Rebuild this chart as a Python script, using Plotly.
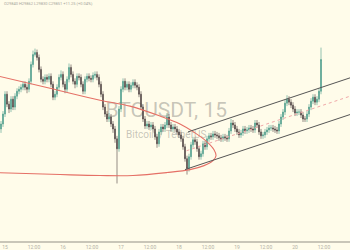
import plotly.graph_objects as go

# ---- data (price units are arbitrary) ----
candle_idx = list(range(161))
opens = [170, 175, 185, 205, 195, 190, 200, 192, 203, 208, 210, 212, 215, 212, 210, 218, 235, 245, 247, 242,
         230, 220, 218, 222, 220, 223, 215, 202, 205, 212, 222, 225, 215, 210, 220, 232, 225, 218, 215, 223,
         222, 215, 208, 220, 223, 221, 220, 224, 225, 222, 215, 205, 192, 185, 180, 182, 175, 170, 160, 150,
         190, 210, 218, 212, 215, 210, 214, 217, 214, 212, 205, 192, 180, 173, 175, 172, 174, 170, 162, 155,
         167, 172, 170, 174, 182, 174, 170, 172, 170, 167, 164, 160, 152, 140, 130, 142, 154, 159, 157, 150,
         142, 145, 155, 152, 160, 163, 162, 165, 164, 163, 161, 160, 162, 161, 160, 168, 176, 174, 170, 167,
         164, 166, 170, 168, 169, 171, 170, 169, 176, 174, 167, 163, 164, 167, 169, 171, 171, 170, 169, 168,
         175, 182, 187, 196, 200, 197, 194, 190, 186, 187, 187, 184, 180, 180, 185, 192, 198, 202, 197, 200,
         208]
highs = [178, 188, 208, 208, 198, 203, 203, 206, 211, 213, 215, 218, 218, 215, 221, 238, 249, 251, 250, 245,
         233, 223, 225, 225, 226, 226, 218, 208, 215, 225, 229, 228, 218, 223, 236, 235, 228, 221, 226, 226,
         225, 218, 223, 226, 226, 224, 227, 228, 228, 225, 218, 208, 195, 188, 186, 185, 178, 173, 163, 193,
         213, 221, 221, 218, 218, 217, 220, 220, 217, 215, 208, 195, 183, 178, 178, 177, 177, 173, 165, 170,
         175, 175, 177, 186, 185, 177, 175, 175, 173, 170, 167, 163, 155, 143, 145, 157, 162, 162, 160, 153,
         148, 158, 158, 163, 166, 166, 168, 168, 167, 166, 164, 165, 165, 164, 171, 180, 179, 177, 173, 170,
         169, 173, 173, 172, 174, 174, 173, 179, 179, 177, 170, 167, 170, 172, 174, 174, 174, 173, 172, 178,
         185, 190, 199, 204, 203, 200, 197, 193, 190, 190, 190, 187, 183, 188, 195, 201, 205, 205, 203, 211,
         252]
lows = [166, 172, 182, 192, 186, 187, 189, 189, 200, 205, 207, 209, 209, 206, 207, 215, 232, 243, 239, 227,
        217, 215, 215, 217, 217, 212, 199, 199, 202, 209, 219, 212, 206, 207, 217, 222, 215, 211, 212, 219,
        212, 205, 205, 217, 218, 217, 217, 221, 219, 212, 202, 189, 182, 177, 177, 172, 166, 156, 115, 147,
        187, 207, 209, 209, 207, 207, 211, 211, 209, 202, 189, 177, 170, 170, 169, 169, 167, 159, 151, 152,
        164, 167, 167, 171, 171, 167, 167, 167, 164, 161, 157, 149, 137, 124, 127, 139, 151, 154, 147, 139,
        139, 142, 149, 149, 157, 159, 159, 161, 160, 158, 157, 157, 158, 157, 157, 165, 171, 167, 164, 161,
        161, 163, 165, 165, 166, 167, 166, 166, 171, 164, 160, 160, 161, 164, 166, 168, 167, 166, 165, 165,
        172, 179, 184, 193, 194, 191, 187, 183, 183, 184, 181, 177, 177, 177, 182, 189, 195, 194, 194, 197,
        205]
closes = [175, 185, 205, 195, 190, 200, 192, 203, 208, 210, 212, 215, 212, 210, 218, 235, 245, 247, 242, 230,
          220, 218, 222, 220, 223, 215, 202, 205, 212, 222, 225, 215, 210, 220, 232, 225, 218, 215, 223, 222,
          215, 208, 220, 223, 221, 220, 224, 225, 222, 215, 205, 192, 185, 180, 182, 175, 170, 160, 150, 190,
          210, 218, 212, 215, 210, 214, 217, 214, 212, 205, 192, 180, 173, 175, 172, 174, 170, 162, 155, 167,
          172, 170, 174, 182, 174, 170, 172, 170, 167, 164, 160, 152, 140, 130, 142, 154, 159, 157, 150, 142,
          145, 155, 152, 160, 163, 162, 165, 164, 163, 161, 160, 162, 161, 160, 168, 176, 174, 170, 167, 164,
          166, 170, 168, 169, 171, 170, 169, 176, 174, 167, 163, 164, 167, 169, 171, 171, 170, 169, 168, 175,
          182, 187, 196, 200, 197, 194, 190, 186, 187, 187, 184, 180, 180, 185, 192, 198, 202, 197, 200, 208,
          240]

tick_pos = [2, 16.5, 31, 45.5, 60, 74.5, 89, 103.5, 118, 132.5, 147, 161.5]
tick_text = ["15", "12:00", "16", "12:00", "17", "12:00", "18", "12:00", "19", "12:00", "20", "12:00"]

# drawings (time index, price)
arc_t = [-3, 24.5, 49.5, 64.5, 79.5, 89.5, 97, 103, 106.5, 107.5, 106, 101.5, 94.5, 83, 66, 49.5, 29.5, -3]
arc_p = [224, 211, 199, 193, 183, 175, 166, 157, 149, 143, 138, 133, 129, 126, 123, 123, 124, 126]
chan_top_t = [93.5, 176]
chan_top_p = [167, 222.5]
chan_mid_t = [92.75, 176]
chan_mid_p = [148, 204]
chan_bot_t = [92, 176]
chan_bot_p = [129, 185.5]

BG = "#fffcea"

fig = go.Figure()
fig.add_trace(go.Candlestick(
    x=candle_idx, open=opens, high=highs, low=lows, close=closes,
    increasing=dict(line=dict(color="#4a9c8a", width=0.6), fillcolor="#4a9c8a"),
    decreasing=dict(line=dict(color="#4d4242", width=0.6), fillcolor="#4d4242"),
    whiskerwidth=0, showlegend=False, hoverinfo="skip"))

fig.add_trace(go.Scatter(x=arc_t, y=arc_p, mode="lines", line=dict(color="#e57066", width=1.1, shape="spline"),
                         showlegend=False, hoverinfo="skip"))
fig.add_trace(go.Scatter(x=chan_top_t, y=chan_top_p, mode="lines", line=dict(color="#555555", width=1),
                         showlegend=False, hoverinfo="skip"))
fig.add_trace(go.Scatter(x=chan_bot_t, y=chan_bot_p, mode="lines", line=dict(color="#555555", width=1),
                         showlegend=False, hoverinfo="skip"))
fig.add_trace(go.Scatter(x=chan_mid_t, y=chan_mid_p, mode="lines", line=dict(color="#f0a8a8", width=1, dash="dot"),
                         showlegend=False, hoverinfo="skip"))

fig.update_layout(
    width=350, height=250,
    margin=dict(l=0, r=0, t=0, b=7),
    paper_bgcolor=BG, plot_bgcolor=BG,
    xaxis=dict(range=[-0.5, 174.5], rangeslider=dict(visible=False), showgrid=False, zeroline=False,
               tickmode="array", tickvals=tick_pos, ticktext=tick_text, ticks="",
               tickfont=dict(size=5, color="#b3b1a6", family="Roboto"),
               showline=True, linecolor="#c9c6b8", linewidth=1.5),
    yaxis=dict(range=[57, 300], showgrid=False, zeroline=False, showticklabels=False, showline=False),
    shapes=[
        dict(type="rect", xref="paper", yref="paper", x0=0.2, x1=0.75, y0=0.5, y1=0.6,
             line=dict(width=0), fillcolor="rgba(0,0,0,0)", layer="below",
             label=dict(text="BTCUSDT, 15", textposition="middle center",
                        font=dict(size=21, color="rgba(120,120,115,0.42)", family="Roboto"))),
        dict(type="rect", xref="paper", yref="paper", x0=0.2, x1=0.75, y0=0.42, y1=0.47,
             line=dict(width=0), fillcolor="rgba(0,0,0,0)", layer="below",
             label=dict(text="Bitcoin / TetherUS", textposition="middle center",
                        font=dict(size=10, color="rgba(120,120,115,0.42)", family="Roboto"))),
    ],
    annotations=[
        dict(text="O29840 H29862 L29830 C29851 +11.25 (+0.04%)", xref="paper", yref="paper",
             x=0.005, y=0.985, xanchor="left", yanchor="middle", showarrow=False,
             font=dict(size=4, color="#a8a69c", family="Roboto")),
    ],
)

fig.write_html("out.html")
